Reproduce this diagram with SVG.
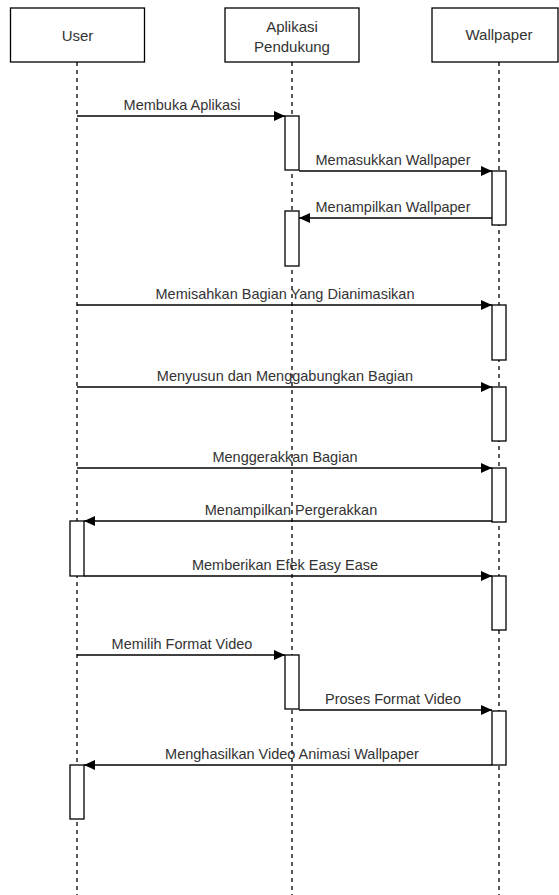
<svg xmlns="http://www.w3.org/2000/svg" width="559" height="895" viewBox="0 0 559 895">
<defs>
<style>
.box{fill:#fff;stroke:#000;stroke-width:1.3}
.life{fill:none;stroke:#000;stroke-width:1.3;stroke-dasharray:4 4}
.act{fill:#fff;stroke:#000;stroke-width:1.3}
.msg{fill:none;stroke:#000;stroke-width:1.3;marker-end:url(#ah)}
.t{font-family:"Liberation Sans",Arial,sans-serif;font-size:15px;fill:#333;text-anchor:middle}
.lbl{font-family:"Liberation Sans",Arial,sans-serif;font-size:14.5px;fill:#333;text-anchor:middle}
</style>
<marker id="ah" markerUnits="userSpaceOnUse" markerWidth="12" markerHeight="11" refX="11" refY="5" orient="auto">
<path d="M0,0 L11,5 L0,10 z" fill="#000"/>
</marker>
</defs>
<rect width="559" height="895" fill="#fff"/>
<g id="lifelines">
<line class="life" x1="77" y1="62" x2="77" y2="895"/>
<line class="life" x1="292" y1="62" x2="292" y2="895"/>
<line class="life" x1="499" y1="62" x2="499" y2="895"/>
</g>
<g id="user">
<rect class="box" x="10.5" y="8" width="134" height="54"/>
<text class="t" x="77.5" y="40.5">User</text>
</g>
<g id="aplikasi">
<rect class="box" x="225" y="8" width="134" height="54"/>
<text class="t" x="292" y="32">Aplikasi</text>
<text class="t" x="292" y="52">Pendukung</text>
</g>
<g id="wallpaper">
<rect class="box" x="432" y="8" width="126" height="54"/>
<text class="t" x="499" y="40">Wallpaper</text>
</g>
<g id="activations">
<rect class="act" x="285" y="116" width="14" height="54"/>
<rect class="act" x="492" y="171" width="14" height="54"/>
<rect class="act" x="285" y="211" width="14" height="55"/>
<rect class="act" x="492" y="305" width="14" height="55"/>
<rect class="act" x="492" y="387" width="14" height="54"/>
<rect class="act" x="492" y="468" width="14" height="54"/>
<rect class="act" x="70" y="521" width="14" height="55"/>
<rect class="act" x="492" y="576" width="14" height="54"/>
<rect class="act" x="285" y="655" width="14" height="54"/>
<rect class="act" x="492" y="711" width="14" height="54"/>
<rect class="act" x="70" y="765" width="14" height="54"/>
</g>
<g id="connectors">
<line class="msg" x1="77" y1="116" x2="285" y2="116"/>
<line class="msg" x1="299" y1="171" x2="492" y2="171"/>
<line class="msg" x1="492" y1="218" x2="299" y2="218"/>
<line class="msg" x1="77" y1="305" x2="492" y2="305"/>
<line class="msg" x1="77" y1="387" x2="492" y2="387"/>
<line class="msg" x1="77" y1="468" x2="492" y2="468"/>
<line class="msg" x1="492" y1="521" x2="84" y2="521"/>
<line class="msg" x1="84" y1="576" x2="492" y2="576"/>
<line class="msg" x1="77" y1="655" x2="285" y2="655"/>
<line class="msg" x1="299" y1="710" x2="492" y2="710"/>
<line class="msg" x1="492" y1="765" x2="84" y2="765"/>
</g>
<g id="labels">
<text class="lbl" x="182" y="110">Membuka Aplikasi</text>
<text class="lbl" x="393" y="165">Memasukkan Wallpaper</text>
<text class="lbl" x="393" y="212">Menampilkan Wallpaper</text>
<text class="lbl" x="285" y="299">Memisahkan Bagian Yang Dianimasikan</text>
<text class="lbl" x="285" y="381">Menyusun dan Menggabungkan Bagian</text>
<text class="lbl" x="285" y="462">Menggerakkan Bagian</text>
<text class="lbl" x="291" y="515">Menampilkan Pergerakkan</text>
<text class="lbl" x="285" y="570">Memberikan Efek Easy Ease</text>
<text class="lbl" x="182" y="649">Memilih Format Video</text>
<text class="lbl" x="393" y="704">Proses Format Video</text>
<text class="lbl" x="292" y="759">Menghasilkan Video Animasi Wallpaper</text>
</g>
</svg>
